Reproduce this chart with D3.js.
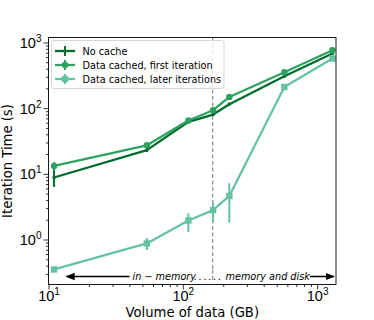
<!DOCTYPE html>
<html><head><meta charset="utf-8">
<script src="https://cdn.jsdelivr.net/npm/d3@7"></script>
<style>body{margin:0;background:#fff}svg{display:block;font-family:"DejaVu Sans",sans-serif}</style>
</head><body><svg id="c" width="374" height="320"></svg>
<script>
const volumes = [11, 54, 110, 168, 222, 570, 1300];
const noCache = [8.8, 23, 62, 80, 115, 306, 680];
const noCacheLo = [6.3, 21.5, 59, 76, 110, 295, 660];
const noCacheHi = [13, 24.5, 65, 84, 120, 318, 700];
const firstIter = [13.2, 27.2, 65, 93, 148, 352, 760];
const firstIterLo = [11.3, 26, 62, 89, 142, 340, 740];
const firstIterHi = [15.2, 28.5, 68, 97, 154, 364, 780];
const laterIter = [0.35, 0.87, 1.95, 2.8, 4.6, 210, 570];
const laterIterLo = [0.33, 0.69, 1.3, 1.85, 1.8, 202, 555];
const laterIterHi = [0.38, 1.05, 2.5, 3.7, 7.2, 218, 585];
const seriesNames = ["No cache", "Data cached, first iteration", "Data cached, later iterations"];
const xTicks = [10, 100, 1000];
const yTicks = [1, 10, 100, 1000];
const boundary = 167;

const colors = ["#006d2c", "#2ca25f", "#66c2a4"];
const markers = ["dot", "circle", "square"];
const series = [
  {name: seriesNames[0], v: noCache, lo: noCacheLo, hi: noCacheHi},
  {name: seriesNames[1], v: firstIter, lo: firstIterLo, hi: firstIterHi},
  {name: seriesNames[2], v: laterIter, lo: laterIterLo, hi: laterIterHi}
];

const L = 48.5, R = 336, T = 37.5, B = 284.5;
const svg = d3.select("#c");
const x = d3.scaleLog().domain([10, 1382]).range([L, R]);
const y = d3.scaleLog().domain([0.2065, 1191]).range([B, T]);

function minors(dom) {
  const out = [];
  for (let e = -2; e <= 4; e++) for (let k = 2; k <= 9; k++) {
    const v = k * Math.pow(10, e);
    if (v >= dom[0] && v <= dom[1]) out.push(v);
  }
  return out;
}

const gx = svg.append("g").attr("transform", `translate(0,${B})`);
gx.call(d3.axisBottom(x).tickValues(minors(x.domain())).tickSize(2.5).tickFormat(""));
gx.select(".domain").remove();
const gx2 = svg.append("g").attr("transform", `translate(0,${B})`);
gx2.call(d3.axisBottom(x).tickValues(xTicks).tickSize(5).tickFormat(""));
gx2.select(".domain").remove();
gx2.selectAll(".tick").each(function(d){
  const t = d3.select(this).append("text").attr("y", 16.5).attr("fill","#000")
    .attr("font-size", 14.5).attr("text-anchor","middle");
  t.append("tspan").text("10");
  t.append("tspan").attr("font-size", 10).attr("dy", -6).text(Math.round(Math.log10(d)));
});

const gy = svg.append("g").attr("transform", `translate(${L},0)`);
gy.call(d3.axisLeft(y).tickValues(minors(y.domain())).tickSize(2.5).tickFormat(""));
gy.select(".domain").remove();
const gy2 = svg.append("g").attr("transform", `translate(${L},0)`);
gy2.call(d3.axisLeft(y).tickValues(yTicks).tickSize(5).tickFormat(""));
gy2.select(".domain").remove();
gy2.selectAll(".tick").each(function(d){
  const t = d3.select(this).append("text").attr("x", -7).attr("y", 5).attr("fill","#000")
    .attr("font-size", 14.5).attr("text-anchor","end");
  t.append("tspan").text("10");
  t.append("tspan").attr("font-size", 10).attr("dy", -6).text(Math.round(Math.log10(d)));
});
svg.selectAll(".tick line").attr("stroke","#000").attr("stroke-width",0.8);

svg.append("line").attr("x1", x(boundary)).attr("x2", x(boundary)).attr("y1", T).attr("y2", B)
  .attr("stroke", "#777").attr("stroke-width", 1).attr("stroke-dasharray", "4,2.5");

svg.append("clipPath").attr("id","pc").append("rect")
  .attr("x", L).attr("y", T).attr("width", R-L).attr("height", B-T);
const plot = svg.append("g").attr("clip-path","url(#pc)");
function drawMarker(g, type, cx, cy, col) {
  if (type === "circle") g.append("circle").attr("cx", cx).attr("cy", cy).attr("r", 3.2).attr("fill", col);
  else if (type === "square") g.append("rect").attr("x", cx-3.2).attr("y", cy-3.2).attr("width", 6.4).attr("height", 6.4).attr("fill", col);
  else g.append("circle").attr("cx", cx).attr("cy", cy).attr("r", 1.8).attr("fill", col);
}
series.forEach((s, i) => {
  const col = colors[i];
  const pts = volumes.map((v, j) => [v, s.v[j], s.lo[j], s.hi[j]]);
  plot.append("path").datum(pts)
    .attr("d", d3.line().x(d => x(d[0])).y(d => y(d[1])))
    .attr("fill","none").attr("stroke", col).attr("stroke-width", 2.3).attr("stroke-linejoin","round");
  pts.forEach(d => {
    plot.append("line").attr("x1", x(d[0])).attr("x2", x(d[0])).attr("y1", y(d[2])).attr("y2", y(d[3]))
      .attr("stroke", col).attr("stroke-width", 2);
    drawMarker(plot, markers[i], x(d[0]), y(d[1]), col);
  });
});

const ay = 276.5;
const defs = svg.append("defs");
["l","r"].forEach(k => {
  defs.append("marker").attr("id","ah"+k).attr("viewBox","0 0 10 10").attr("refX", 9).attr("refY",5)
    .attr("markerWidth", 7).attr("markerHeight", 7).attr("orient", k==="r" ? "auto" : "auto-start-reverse")
    .append("path").attr("d","M0,1 L10,5 L0,9 z").attr("fill","#000");
});
svg.append("line").attr("x1", 66.5).attr("x2", 334).attr("y1", ay).attr("y2", ay)
  .attr("stroke","#000").attr("stroke-width",1.3)
  .attr("marker-start","url(#ahl)").attr("marker-end","url(#ahr)");
svg.append("rect").attr("x", 129.5).attr("y", ay-7).attr("width", 180.5).attr("height", 13).attr("fill","#fff");
svg.append("line").attr("x1", x(boundary)).attr("x2", x(boundary)).attr("y1", ay-7).attr("y2", ay+6)
  .attr("stroke", "#777").attr("stroke-width", 1).attr("stroke-dasharray", "4,2.5");
svg.append("text").attr("x", 132.5).attr("y", ay+3.5).attr("font-size", 9.7).attr("font-style","italic")
  .attr("fill","#000").text("in − memory");
svg.append("text").attr("x", 194).attr("y", ay+3.5).attr("font-size", 9.7).attr("font-style","italic")
  .attr("letter-spacing", 1.75).attr("fill","#000").text("......");
svg.append("text").attr("x", 225.5).attr("y", ay+3.5).attr("font-size", 9.7).attr("font-style","italic")
  .attr("fill","#000").text("memory and disk");

svg.append("rect").attr("x", L).attr("y", T).attr("width", R-L).attr("height", B-T)
  .attr("fill","none").attr("stroke","#000").attr("stroke-width", 0.9);

const lg = svg.append("g");
lg.append("rect").attr("x", 51.5).attr("y", 40.5).attr("width", 172.5).attr("height", 48)
  .attr("rx", 2.5).attr("fill","#fff").attr("fill-opacity",0.8).attr("stroke","#ccc").attr("stroke-width",0.8);
series.forEach((s, i) => {
  const cy = 51 + i * 14;
  lg.append("line").attr("x1", 55).attr("x2", 75).attr("y1", cy).attr("y2", cy)
    .attr("stroke", colors[i]).attr("stroke-width", 2.3);
  lg.append("line").attr("x1", 65).attr("x2", 65).attr("y1", cy-5).attr("y2", cy+5)
    .attr("stroke", colors[i]).attr("stroke-width", 2);
  drawMarker(lg, markers[i], 65, cy, colors[i]);
  lg.append("text").attr("x", 82.5).attr("y", cy+3.5).attr("font-size", 9.7).attr("fill","#000").text(s.name);
});

svg.append("text").attr("x", (L+R)/2).attr("y", 317).attr("text-anchor","middle")
  .attr("font-size", 13.2).attr("fill","#000").text("Volume of data (GB)");
svg.append("text").attr("transform", `translate(11.5,${(T+B)/2}) rotate(-90)`).attr("text-anchor","middle")
  .attr("font-size", 13.2).attr("fill","#000").text("Iteration Time (s)");
</script></body></html>
